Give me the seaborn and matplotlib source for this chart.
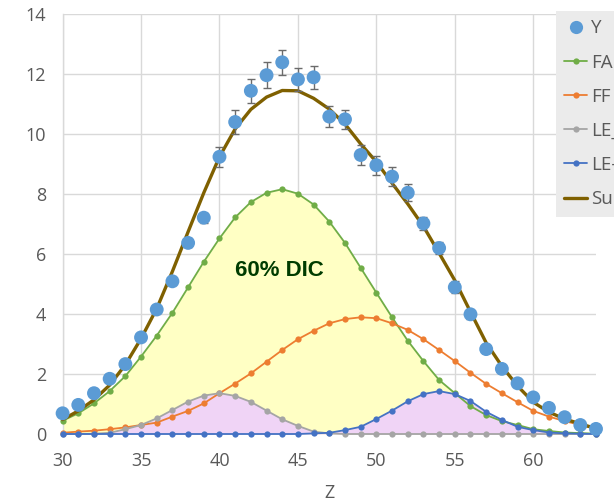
import matplotlib
matplotlib.use("Agg")
import matplotlib.pyplot as plt
from matplotlib.lines import Line2D
import seaborn as sns
import numpy as np
import pandas as pd

# ---- data ----
z = list(range(30, 65))
y_obs = [0.69, 0.97, 1.36, 1.84, 2.33, 3.22, 4.15, 5.09, 6.37, 7.21,
         9.24, 10.40, 11.44, 11.96, 12.39, 11.82, 11.89, 10.58, 10.49, 9.30,
         8.96, 8.58, 8.04, 7.02, 6.20, 4.89, 3.99, 2.83, 2.17, 1.69,
         1.22, 0.87, 0.56, 0.30, 0.17]
y_err = [0.05, 0.06, 0.07, 0.08, 0.09, 0.10, 0.12, 0.13, 0.15, 0.17,
         0.34, 0.39, 0.39, 0.43, 0.42, 0.38, 0.39, 0.35, 0.32, 0.34,
         0.31, 0.32, 0.28, 0.23, 0.20, 0.20, 0.15, 0.13, 0.12, 0.10,
         0.09, 0.08, 0.07, 0.06, 0.05]
fa = [0.44, 0.69, 1.02, 1.43, 1.93, 2.58, 3.28, 4.04, 4.89, 5.74,
      6.52, 7.22, 7.73, 8.04, 8.16, 8.01, 7.65, 7.08, 6.37, 5.54,
      4.71, 3.89, 3.11, 2.43, 1.80, 1.36, 0.93, 0.63, 0.43, 0.30,
      0.16, 0.10, 0.05, 0.03, 0.01]
ff = [0.04, 0.08, 0.11, 0.16, 0.22, 0.30, 0.38, 0.58, 0.77, 1.02,
      1.36, 1.68, 2.02, 2.41, 2.80, 3.16, 3.44, 3.69, 3.83, 3.89,
      3.86, 3.69, 3.47, 3.16, 2.80, 2.43, 2.04, 1.67, 1.36, 1.06,
      0.77, 0.58, 0.43, 0.30, 0.17]
le_a = [0.00, 0.00, 0.01, 0.04, 0.16, 0.30, 0.52, 0.80, 1.08, 1.28,
        1.36, 1.27, 1.07, 0.78, 0.49, 0.27, 0.08, 0.02, 0.00, 0.00,
        0.00, 0.00, 0.00, 0.00, 0.00, 0.00, 0.00, 0.00, 0.00, 0.00,
        0.00, 0.00, 0.00, 0.00, 0.00]
le_f = [0.00, 0.00, 0.00, 0.00, 0.00, 0.00, 0.00, 0.00, 0.00, 0.00,
        0.00, 0.00, 0.00, 0.00, 0.00, 0.00, 0.02, 0.04, 0.13, 0.24,
        0.50, 0.78, 1.09, 1.33, 1.43, 1.33, 1.10, 0.74, 0.47, 0.24,
        0.13, 0.05, 0.02, 0.01, 0.00]
labels = ["Y", "FA", "FF", "LE_FA", "LE-FF", "Sum"]
x_ticks = [30, 35, 40, 45, 50, 55, 60]
y_ticks = [0, 2, 4, 6, 8, 10, 12, 14]
annotation = "60% DIC"

df = pd.DataFrame({"Z": z, "Y": y_obs, "err": y_err, "FA": fa, "FF": ff,
                   "LE_A": le_a, "LE_F": le_f})
df["Sum"] = df["FA"] + df["FF"] + df["LE_A"] + df["LE_F"]

sns.set_theme(style="whitegrid")
plt.rcParams['font.family'] = ['Open Sans', 'DejaVu Sans']

fig = plt.figure(figsize=(6.14, 5.04), dpi=100)
ax = fig.add_axes([62.6 / 614, 1 - 434 / 504, (596 - 62.6) / 614, 420 / 504])
ax.set_facecolor("white")

grid_c = "#d9d9d9"
ax.grid(True, color=grid_c, linewidth=1.0)
for s in ["top", "right", "bottom"]:
    ax.spines[s].set_visible(False)
ax.spines["left"].set_color(grid_c)
ax.spines["left"].set_linewidth(1.0)

# fills
ax.fill_between(df["Z"], 0, df["FA"], color="#ffffc4", lw=0, zorder=1)
ax.fill_between(df["Z"], 0, np.maximum(df["LE_A"], df["LE_F"]),
                color="#f0d4f6", lw=0, zorder=1.5)

series = [("FA", "#70ad47"), ("FF", "#ed7d31"), ("LE_A", "#a5a5a5"), ("LE_F", "#4472c4")]
for col, c in series:
    sns.lineplot(data=df, x="Z", y=col, ax=ax, color=c, marker="o",
                 markersize=4.5, markeredgewidth=0, linewidth=1.3,
                 clip_on=False, zorder=3, legend=False)

sns.lineplot(data=df, x="Z", y="Sum", ax=ax, color="#7f6000", linewidth=2.4,
             clip_on=False, zorder=4, legend=False)

ax.errorbar(df["Z"], df["Y"], yerr=df["err"], fmt="none", ecolor="#6b6b6b",
            elinewidth=1.0, capsize=3, capthick=1.0, zorder=5, clip_on=False)
sns.scatterplot(data=df, x="Z", y="Y", ax=ax, color="#5b9bd5", s=100,
                edgecolor="none", zorder=6, clip_on=False, legend=False)

ax.text(43.8, 5.45, annotation, ha="center", va="center", fontsize=16,
        fontweight="bold", color="#003c00", family=["Liberation Sans", "DejaVu Sans"],
        zorder=7)

ax.set_xlim(30, 64)
ax.set_ylim(0, 14)
ax.set_xticks(x_ticks)
ax.set_yticks(y_ticks)
ax.tick_params(axis="both", length=0, labelsize=13, labelcolor="#595959")
ax.tick_params(axis="y", pad=12)
ax.tick_params(axis="x", pad=13)
ax.set_xlabel("Z", fontsize=13, color="#595959", labelpad=10)
ax.set_ylabel("")

handles = [Line2D([], [], color="#5b9bd5", marker="o", linestyle="none", markersize=9.5,
                  markeredgewidth=0)]
for col, c in series:
    handles.append(Line2D([], [], color=c, marker="o", markersize=4.5,
                          markeredgewidth=0, linewidth=1.3))
handles.append(Line2D([], [], color="#7f6000", linewidth=2.4))

leg = fig.legend(handles, labels, loc="upper left",
                 bbox_to_anchor=(556 / 614, 1 - 11 / 504), frameon=True,
                 facecolor="#ebebeb", edgecolor="none", fancybox=False,
                 framealpha=1, fontsize=13.5, labelcolor="#595959",
                 borderpad=0.45, labelspacing=0.86, handlelength=1.2,
                 handletextpad=0.2, borderaxespad=0)

fig.savefig("out.png", dpi=100)
